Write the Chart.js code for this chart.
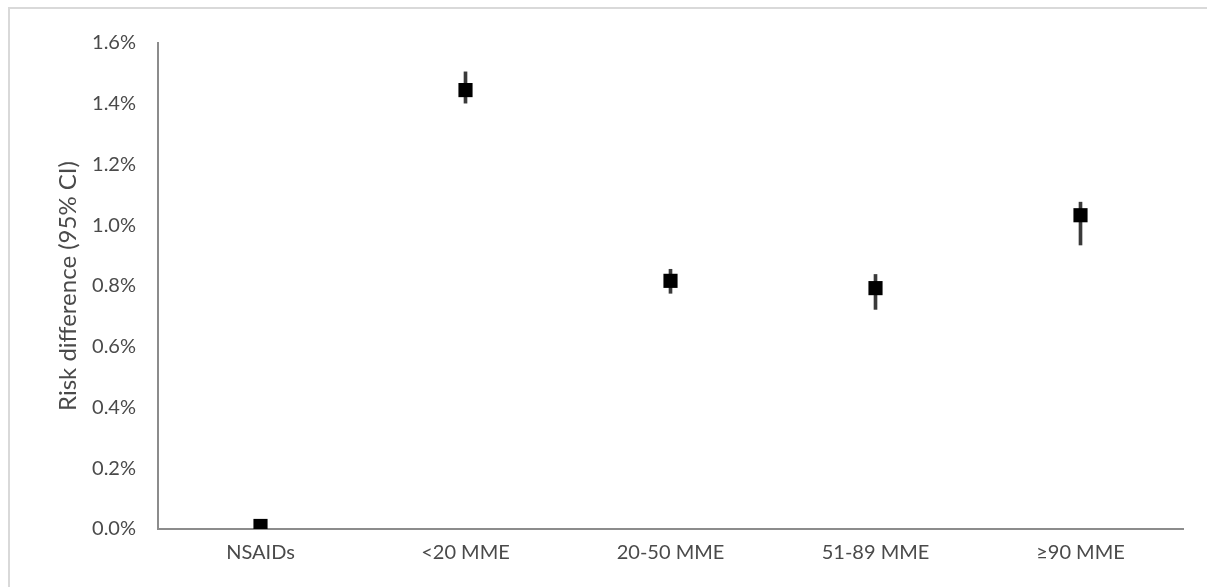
<!DOCTYPE html>
<html>
<head>
<meta charset="utf-8">
<script src="https://cdn.jsdelivr.net/npm/chart.js@4"></script>
<style>
  html, body { margin: 0; padding: 0; background: #fff; }
  #frame {
    position: absolute; left: 8px; top: 7px; width: 1199px; height: 580px;
    border-left: 2px solid #d9d9d9; border-top: 2px solid #d9d9d9;
  }
  #wrap { position: absolute; left: 0; top: 0; width: 1197px; height: 578px; }
</style>
</head>
<body>
<div id="frame"><div id="wrap"><canvas id="myChart"></canvas></div></div>
<script>
const categories = ['NSAIDs', '<20 MME', '20-50 MME', '51-89 MME', '≥90 MME'];
// risk difference in percent
const riskDiff = [0.01, 1.445, 0.817, 0.793, 1.033];
const ciLow = [0.0, 1.402, 0.776, 0.723, 0.935];
const ciHigh = [0.02, 1.505, 0.855, 0.838, 1.076];
const yTicks = [0, 0.2, 0.4, 0.6, 0.8, 1.0, 1.2, 1.4, 1.6];

const ciRanges = categories.map((c, i) => [ciLow[i], ciHigh[i]]);

const ctx = document.getElementById('myChart');
Chart.defaults.font.family = 'Lato, "Open Sans", sans-serif';
Chart.defaults.color = '#4a4a4a';

new Chart(ctx, {
  type: 'bar',
  data: {
    labels: categories,
    datasets: [
      {
        type: 'line',
        label: 'Risk difference',
        data: riskDiff,
        showLine: false,
        pointStyle: 'rect',
        pointRadius: 10,
        pointBackgroundColor: '#000',
        pointBorderWidth: 0,
        order: 0,
      },
      {
        label: '95% CI',
        data: ciRanges,
        backgroundColor: '#3a3a3a',
        barThickness: 3,
        borderSkipped: false,
        order: 1,
      },
    ],
  },
  options: {
    responsive: true,
    maintainAspectRatio: false,
    animation: false,
    layout: {padding: {top: 32, right: 24, bottom: 10, left: 28}},
    plugins: {legend: {display: false}, tooltip: {enabled: false}},
    scales: {
      x: {
        offset: true,
        grid: {display: false, drawTicks: false},
        border: {color: '#8c8c8c', width: 2},
        ticks: {font: {size: 20}, padding: 12},
      },
      y: {
        min: 0,
        max: 1.6,
        afterBuildTicks: (axis) => {
          axis.ticks = yTicks.map((v) => ({value: v}));
        },
        afterFit: (axis) => {
          axis.width = 120;
        },
        grid: {display: false, drawTicks: false},
        border: {color: '#8c8c8c', width: 2},
        ticks: {
          font: {size: 20},
          padding: 22,
          callback: (v) => Number(v).toFixed(1) + '%',
        },
        title: {
          display: true,
          text: 'Risk difference (95% CI)',
          font: {size: 24},
          color: '#4a4a4a',
          padding: {top: 16, bottom: 0},
        },
      },
    },
  },
});
</script>
</body>
</html>
